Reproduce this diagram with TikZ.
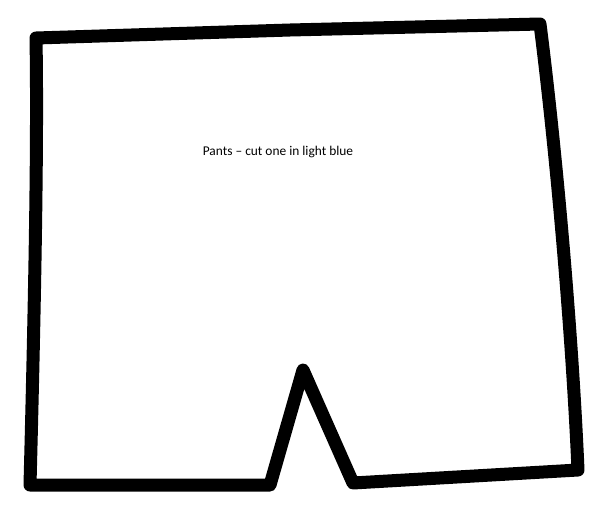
\documentclass[tikz,border=0pt]{standalone}
\usepackage{fontspec}
\setmainfont{Carlito}
\begin{document}
\begin{tikzpicture}[x=1pt,y=-1pt]
            \useasboundingbox (0,0) rectangle (600,512);
            \draw[line width=13pt,line join=round,line cap=round]
              (36,38) -- (290,30) -- (540,24)
              .. controls (556,150) and (572,330) .. (578,470)
              -- (353,483) -- (303,370) -- (270,485) -- (30,485)
              .. controls (34,330) and (38,150) .. cycle;
            \node[font=\fontsize{13.4}{15}\selectfont] (title) at (278,152) {Pants -- cut one in light blue};
          \end{tikzpicture}
\end{document}
